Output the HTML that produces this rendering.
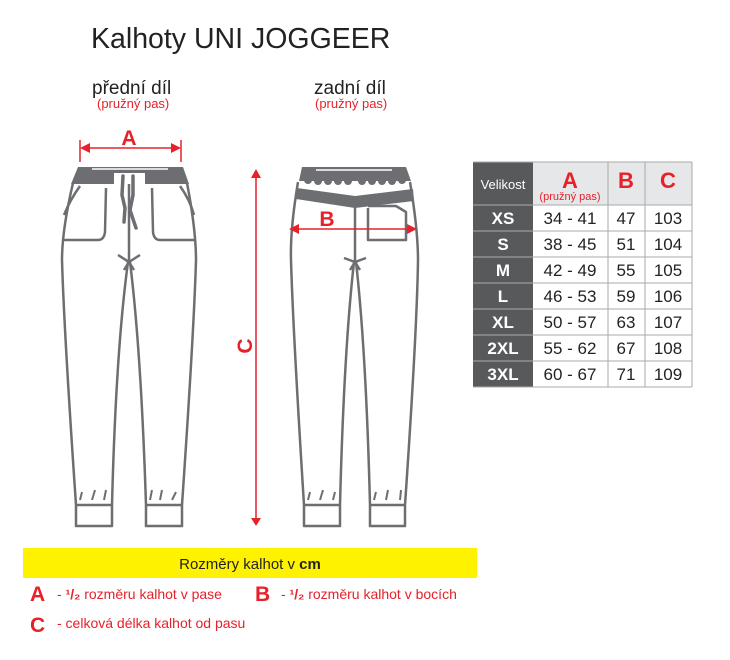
<!DOCTYPE html>
<html><head><meta charset="utf-8"><style>
html,body{margin:0;padding:0;background:#fff;width:730px;height:660px;overflow:hidden}
</style></head><body>
<svg width="730" height="660" viewBox="0 0 730 660" xmlns="http://www.w3.org/2000/svg" font-family="'Liberation Sans', Arial, sans-serif">
<text x="91" y="48" font-size="28.5" fill="#222">Kalhoty UNI JOGGEER</text>
<text x="92" y="94" font-size="19" fill="#222">přední díl</text>
<text x="97" y="108" font-size="13" fill="#e8202a">(pružný pas)</text>
<text x="314" y="94" font-size="19" fill="#222">zadní díl</text>
<text x="315" y="108" font-size="13" fill="#e8202a">(pružný pas)</text>

<!-- FRONT pants -->
<g fill="none" stroke="#6d6e71" stroke-width="2.5" stroke-linejoin="round">
<path d="M73,183 Q62,230 62,260 Q64,330 76,505 L76,526 L112,526 L112,505 Q116,350 128,262 M130,262 Q141,350 146,505 L146,526 L182,526 L182,505 Q194,330 196,260 Q196,230 187,183"/>
<path d="M76,505 L112,505 M146,505 L182,505"/>
<path d="M80,186 Q70,200 64,215 M64,240 L98,240 Q104,240 105,232 L106,188"/>
<path d="M180,186 Q190,200 194,215 M194,240 L160,240 Q154,240 153,232 L152,188"/>
<path d="M129,183 L129,262"/>
<path d="M118,255 L129,262 L140,255 M129,262 L124,270 M129,262 L134,270"/>
<path d="M80,500 L82,492 M92,500 L95,490 M104,500 L106,490 M150,500 L152,490 M160,500 L162,490 M172,500 L176,492" stroke-width="2"/>
</g>
<path d="M78,167 L183,167 L189,184 L71,184 Z" fill="#6d6e71"/>
<rect x="114" y="173" width="31" height="11" fill="#fff"/>
<path d="M92,169 L168,169" stroke="#fff" stroke-width="1.5"/>
<g stroke="#6d6e71" stroke-width="3.5" fill="none" stroke-linecap="round">
<path d="M123,176 L122,195 L125,208 L124,222"/>
<path d="M133,176 L133,195 L130,210 L136,228"/>
</g>

<!-- BACK pants -->
<g fill="none" stroke="#6d6e71" stroke-width="2.5" stroke-linejoin="round">
<path d="M298,182 Q290,230 291,260 Q293,330 304,505 L304,526 L340,526 L340,505 Q344,350 354,262 M356,262 Q366,350 370,505 L370,526 L405,526 L405,505 Q417,330 418,260 Q418,230 410,182"/>
<path d="M304,505 L340,505 M370,505 L405,505"/>
<path d="M355,200 L355,262"/>
<path d="M344,258 L355,262 L366,258 M355,262 L350,270 M355,262 L360,270"/>
<path d="M368,208 L368,240 L406,240 L406,212 L396,206 L368,206"/>
<path d="M308,500 L310,492 M320,500 L323,490 M333,500 L335,492 M374,500 L376,492 M386,500 L388,490 M400,500 L401,490" stroke-width="2"/>
</g>
<path d="M302,167 L406,167 L411,181 L299,181 Z" fill="#6d6e71"/>
<g fill="#6d6e71">
<circle cx="308" cy="180" r="4"/><circle cx="318" cy="181" r="4"/><circle cx="328" cy="181" r="4"/><circle cx="338" cy="181" r="4"/><circle cx="348" cy="181" r="4"/>
<circle cx="362" cy="181" r="4"/><circle cx="372" cy="181" r="4"/><circle cx="382" cy="181" r="4"/><circle cx="392" cy="181" r="4"/><circle cx="402" cy="180" r="4"/>
</g>
<path d="M297,188 L355,196 L413,189 L414,201 L355,208 L296,199 Z" fill="#6d6e71"/>
<path d="M316,170 L392,170" stroke="#fff" stroke-width="1.5"/>

<!-- dimension arrows -->
<g stroke="#e8202a" stroke-width="1.5" fill="#e8202a">
<line x1="80" y1="140" x2="80" y2="162"/><line x1="181" y1="140" x2="181" y2="162"/>
<line x1="84" y1="148" x2="178" y2="148"/>
<path d="M80,148 L90,143 L90,153 Z" stroke="none"/><path d="M181,148 L171,143 L171,153 Z" stroke="none"/>
<line x1="292" y1="229" x2="414" y2="229"/>
<path d="M289,229 L299,224 L299,234 Z" stroke="none"/><path d="M417,229 L407,224 L407,234 Z" stroke="none"/>
<line x1="256" y1="176" x2="256" y2="520"/>
<path d="M256,169 L251,178 L261,178 Z" stroke="none"/><path d="M256,526 L251,518 L261,518 Z" stroke="none"/>
</g>
<text x="129" y="145" font-size="21" font-weight="bold" fill="#e8202a" text-anchor="middle">A</text>
<text x="327" y="226" font-size="21" font-weight="bold" fill="#e8202a" text-anchor="middle">B</text>
<text transform="translate(252,346) rotate(-90)" font-size="21" font-weight="bold" fill="#e8202a" text-anchor="middle">C</text>

<!-- table -->
<rect x="473" y="162" width="60" height="225" fill="#58595b"/>
<rect x="533" y="162" width="159" height="43" fill="#e6e7e8"/>
<rect x="533" y="205" width="159" height="182" fill="#fff"/>
<g stroke="#aaa" stroke-width="1">
<line x1="608" y1="162" x2="608" y2="387"/><line x1="645" y1="162" x2="645" y2="387"/>
<line x1="692" y1="162" x2="692" y2="387"/>
<line x1="473" y1="162" x2="692" y2="162"/>
<line x1="473" y1="205" x2="692" y2="205"/><line x1="473" y1="231" x2="692" y2="231"/>
<line x1="473" y1="257" x2="692" y2="257"/><line x1="473" y1="283" x2="692" y2="283"/>
<line x1="473" y1="309" x2="692" y2="309"/><line x1="473" y1="335" x2="692" y2="335"/>
<line x1="473" y1="361" x2="692" y2="361"/><line x1="473" y1="387" x2="692" y2="387"/>
</g>
<text x="503" y="189" font-size="13" fill="#fff" text-anchor="middle">Velikost</text>
<text x="570" y="188" font-size="22" font-weight="bold" fill="#e8202a" text-anchor="middle">A</text>
<text x="570" y="200" font-size="11" fill="#e8202a" text-anchor="middle">(pružný pas)</text>
<text x="626" y="188" font-size="22" font-weight="bold" fill="#e8202a" text-anchor="middle">B</text>
<text x="668" y="188" font-size="22" font-weight="bold" fill="#e8202a" text-anchor="middle">C</text>
<g font-size="17" font-weight="bold" fill="#fff" text-anchor="middle">
<text x="503" y="224">XS</text><text x="503" y="250">S</text><text x="503" y="276">M</text><text x="503" y="302">L</text><text x="503" y="328">XL</text><text x="503" y="354">2XL</text><text x="503" y="380">3XL</text>
</g>
<g font-size="17" fill="#222" text-anchor="middle">
<text x="570" y="224">34 - 41</text><text x="626" y="224">47</text><text x="668" y="224">103</text>
<text x="570" y="250">38 - 45</text><text x="626" y="250">51</text><text x="668" y="250">104</text>
<text x="570" y="276">42 - 49</text><text x="626" y="276">55</text><text x="668" y="276">105</text>
<text x="570" y="302">46 - 53</text><text x="626" y="302">59</text><text x="668" y="302">106</text>
<text x="570" y="328">50 - 57</text><text x="626" y="328">63</text><text x="668" y="328">107</text>
<text x="570" y="354">55 - 62</text><text x="626" y="354">67</text><text x="668" y="354">108</text>
<text x="570" y="380">60 - 67</text><text x="626" y="380">71</text><text x="668" y="380">109</text>
</g>

<!-- legend -->
<rect x="23" y="548" width="454" height="30" fill="#fff200"/>
<text x="250" y="569" font-size="15" fill="#222" text-anchor="middle">Rozměry kalhot v <tspan font-weight="bold">cm</tspan></text>
<text x="30" y="601" font-size="21" font-weight="bold" fill="#e8202a">A</text>
<text x="57" y="599" font-size="14" fill="#e8202a">- <tspan font-weight="bold">¹/₂</tspan> rozměru kalhot v pase</text>
<text x="255" y="601" font-size="21" font-weight="bold" fill="#e8202a">B</text>
<text x="281" y="599" font-size="14" fill="#e8202a">- <tspan font-weight="bold">¹/₂</tspan> rozměru kalhot v bocích</text>
<text x="30" y="632" font-size="21" font-weight="bold" fill="#e8202a">C</text>
<text x="57" y="628" font-size="14" fill="#e8202a">- celková délka kalhot od pasu</text>
</svg>
</body></html>
